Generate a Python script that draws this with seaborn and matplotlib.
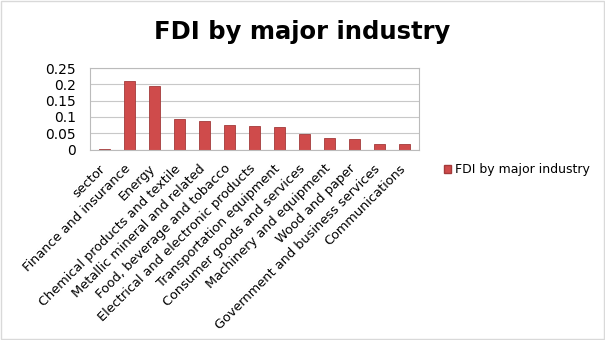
import matplotlib
matplotlib.use("Agg")
import matplotlib.pyplot as plt
import matplotlib.transforms as mtransforms
import seaborn as sns
import pandas as pd
from matplotlib.patches import Patch, Rectangle

sectors = [
    "sector", "Finance and insurance", "Energy", "Chemical products and textile",
    "Metallic mineral and related", "Food, beverage and tobacco",
    "Electrical and electronic products", "Transportation equipment",
    "Consumer goods and services", "Machinery and equipment", "Wood and paper",
    "Government and business services", "Communications",
]
fdi_share = [0.002, 0.21, 0.195, 0.095, 0.087, 0.075, 0.071, 0.070,
             0.048, 0.036, 0.034, 0.018, 0.016]
yticks = [0, 0.05, 0.1, 0.15, 0.2, 0.25]
ytick_labels = ["0", "0.05", "0.1", "0.15", "0.2", "0.25"]

df = pd.DataFrame({"sector": sectors, "value": fdi_share})

sns.set_style("white")
plt.rcParams["font.family"] = ["DejaVu Sans"]
plt.rcParams["text.color"] = "black"
plt.rcParams["xtick.color"] = "black"
plt.rcParams["ytick.color"] = "black"

fig = plt.figure(figsize=(6.05, 3.4), dpi=100)
ax = fig.add_axes([0.148, 0.56, 0.545, 0.24])

bar_color = "#CF4B4B"
sns.barplot(data=df, x="sector", y="value", color=bar_color, width=0.45,
            edgecolor="#A33A3A", linewidth=0.6, ax=ax, saturation=1)

ax.set_ylim(0, 0.25)
ax.set_yticks(yticks)
ax.set_yticklabels(ytick_labels, fontsize=10)
ax.set_xlim(-0.6, len(sectors) - 0.4)
ax.set_xlabel("")
ax.set_ylabel("")
ax.yaxis.grid(True, color="#C8C8C8", linewidth=0.8)
ax.set_axisbelow(True)
for s in ax.spines.values():
    s.set_color("#BBBBBB")
    s.set_linewidth(0.8)
ax.tick_params(axis="y", length=0, pad=10)
ax.tick_params(axis="x", length=0, pad=9)
ax.set_xticks(range(len(sectors)))
ax.set_xticklabels(sectors, rotation=45, ha="right", rotation_mode="anchor",
                   fontsize=9.3)

# nudge the slanted category labels a little to the left
shift = mtransforms.ScaledTranslation(-4 / 72, 0, fig.dpi_scale_trans)
for lbl in ax.get_xticklabels():
    lbl.set_transform(lbl.get_transform() + shift)

fig.suptitle("FDI by major industry", x=0.5, y=0.94, fontsize=17.5,
             fontweight="bold", color="black")

fig.legend(handles=[Patch(facecolor=bar_color, edgecolor="#A33A3A",
                          label="FDI by major industry")],
           loc="center left", bbox_to_anchor=(0.715, 0.5), frameon=False,
           fontsize=9, handlelength=0.6, handleheight=0.6, handletextpad=0.3)

fig.patches.append(Rectangle((0.002, 0.003), 0.996, 0.994,
                             transform=fig.transFigure, fill=False,
                             edgecolor="#D9D9D9", linewidth=1))

fig.savefig("out.png", dpi=100, facecolor="white")
